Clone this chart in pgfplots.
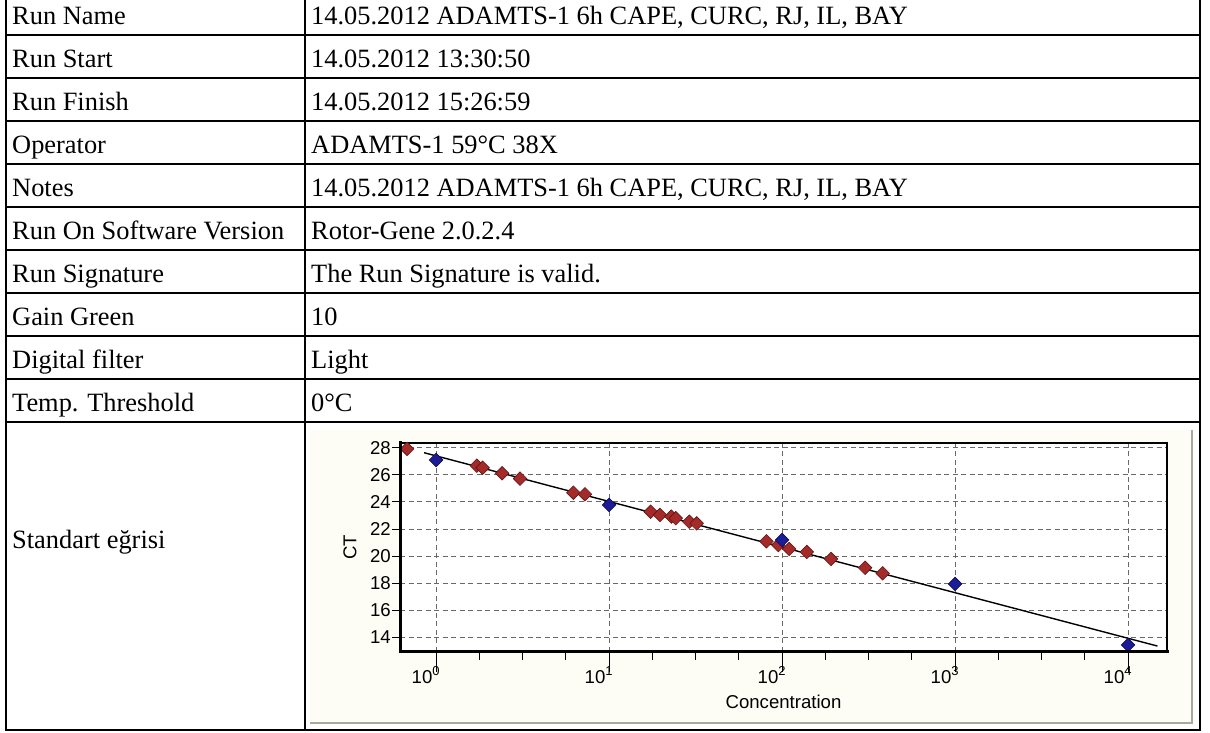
\documentclass[border=0pt]{standalone}
\usepackage{fontspec}
\setmainfont{Liberation Serif}
\newfontfamily\chartfont{Liberation Sans}
\usepackage{pgfplots}
\pgfplotsset{compat=1.18}

\definecolor{sampleRed}{RGB}{165,42,42}
\definecolor{sampleEdge}{RGB}{95,20,20}
\definecolor{stdBlue}{RGB}{28,28,150}
\definecolor{stdEdge}{RGB}{10,10,80}
\definecolor{gridGray}{RGB}{105,105,105}
\definecolor{panelBg}{RGB}{253,253,246}
\definecolor{panelEdge}{RGB}{168,170,160}

% decade tick label: "10" to the left of the tick, exponent on the tick
\newcommand{\decade}[1]{\makebox[0pt][r]{10}\raisebox{8pt}{\fontsize{13}{13}\selectfont #1}}

\begin{document}
\begin{tikzpicture}[
  cell/.style={anchor=base west, inner sep=0pt, font=\fontsize{26.4}{30}\selectfont}]
\useasboundingbox (0pt,0pt) rectangle (1210pt,733pt);

\begin{scope}[x=1pt,y=1pt]
% panel that holds the standard curve
\fill[panelBg] (310,303) rectangle (1192,10);
\draw[panelEdge, line width=2pt] (310,10) -- (1192,10) -- (1192,303);

% table grid (the table continues above the top edge)
\draw[line width=2pt] (6,733) -- (6,3) -- (1200,3) -- (1200,733);
\draw[line width=2pt] (305,733) -- (305,3);
\foreach \y in {698,655,612,569,526,483,440,397,354,311}
  \draw[line width=2pt] (6,\y) -- (1200,\y);

% left column
\node[cell] at (12,708) {Run Name};
\node[cell] at (12,665) {Run Start};
\node[cell] at (12,622) {Run Finish};
\node[cell] at (12,579) {Operator};
\node[cell] at (12,536) {Notes};
\node[cell] at (12,493) {Run On Software Version};
\node[cell] at (12,450) {Run Signature};
\node[cell] at (12,407) {Gain Green};
\node[cell] at (12,364) {Digital filter};
\node[cell] at (12,321) {Temp. Threshold};
\node[cell] at (12,184) {Standart eğrisi};

% right column
\node[cell] at (311,708) {14.05.2012 ADAMTS-1 6h CAPE, CURC, RJ, IL, BAY};
\node[cell] at (311,665) {14.05.2012 13:30:50};
\node[cell] at (311,622) {14.05.2012 15:26:59};
\node[cell] at (311,579) {ADAMTS-1 59°C 38X};
\node[cell] at (311,536) {14.05.2012 ADAMTS-1 6h CAPE, CURC, RJ, IL, BAY};
\node[cell] at (311,493) {Rotor-Gene 2.0.2.4};
\node[cell] at (311,450) {The Run Signature is valid.};
\node[cell] at (311,407) {10};
\node[cell] at (311,364) {Light};
\node[cell] at (311,321) {0°C};
\end{scope}

\begin{axis}[
  at={(400pt,81pt)}, anchor=south west,
  scale only axis, width=767pt, height=209pt,
  xmode=log,
  xmin=0.619, xmax=16800, ymin=12.89, ymax=28.37,
  xtick={1,10,100,1000,10000},
  xticklabels={\decade{0},\decade{1},\decade{2},\decade{3},\decade{4}},
  minor xtick={1.778,3.162,5.623,17.78,31.62,56.23,177.8,316.2,562.3,1778,3162,5623},
  ytick={14,16,...,28},
  xtick pos=bottom, ytick pos=left,
  tick align=outside,
  major tick length=8pt,
  minor tick length=8pt,
  xtick style={/pgfplots/major tick length=20pt, line width=1pt, black},
  ytick style={line width=1pt, black},
  minor tick style={line width=1pt, black},
  grid=major,
  major grid style={gridGray, line width=1pt, dash pattern=on 5pt off 3.5pt},
  axis line style={line width=1.5pt},
  axis background/.style={fill=white},
  font=\chartfont\fontsize{18.6}{20}\selectfont,
  /pgf/number format/assume math mode=true,
  xticklabel style={anchor=north, inner sep=0pt, yshift=-6pt},
  yticklabel style={inner sep=1pt},
  xlabel={Concentration}, ylabel={CT},
  xlabel style={at={(axis description cs:0.5,-0.268)}, anchor=base},
  ylabel style={at={(axis description cs:-0.0652,0.5)}, anchor=center},
  after end axis/.code={
    \draw[line width=3pt, line cap=rect] (rel axis cs:0,1) -- (rel axis cs:0,0) -- (rel axis cs:1,0);
  },
]
% fitted standard curve
\addplot[black, line width=1.4pt] coordinates {(0.853,27.65) (14800,13.33)};

% samples
\addplot[only marks, mark=square*, mark size=4.8pt,
  mark options={rotate=45, fill=sampleRed, draw=sampleEdge, line width=0.6pt}]
  coordinates {
  (0.68,27.93) (1.72,26.69) (1.86,26.54) (2.41,26.13) (3.06,25.73)
  (6.22,24.69) (7.26,24.57) (17.4,23.28) (19.7,23.04) (22.9,22.92)
  (24.3,22.80) (29.1,22.54) (32.1,22.42) (81.3,21.09) (95.2,20.81)
  (110,20.52) (139,20.30) (192,19.78) (302,19.13) (382,18.72)
  };

% standards
\addplot[only marks, mark=square*, mark size=4.8pt,
  mark options={rotate=45, fill=stdBlue, draw=stdEdge, line width=0.6pt}]
  coordinates {
  (1,27.11) (10,23.78) (100,21.19) (1000,17.93) (10000,13.41)
  };
\end{axis}
\end{tikzpicture}
\end{document}
